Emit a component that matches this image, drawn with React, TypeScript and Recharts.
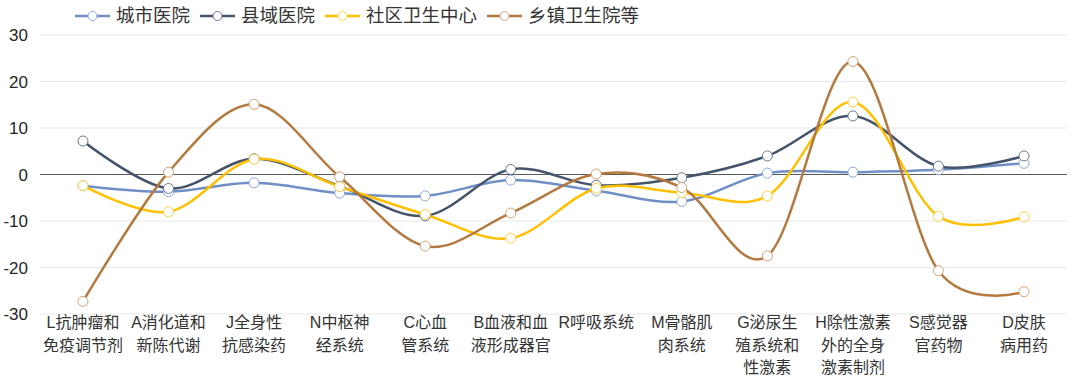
import React from "react";
import { LineChart, Line, XAxis, YAxis, CartesianGrid, ReferenceLine } from "recharts";

const categories = [
  "L抗肿瘤和\n免疫调节剂",
  "A消化道和\n新陈代谢",
  "J全身性\n抗感染药",
  "N中枢神\n经系统",
  "C心血\n管系统",
  "B血液和血\n液形成器官",
  "R呼吸系统",
  "M骨骼肌\n肉系统",
  "G泌尿生\n殖系统和\n性激素",
  "H除性激素\n外的全身\n激素制剂",
  "S感觉器\n官药物",
  "D皮肤\n病用药",
];

const cityHospital = [-2.4, -3.7, -1.8, -4.0, -4.6, -1.2, -3.5, -5.8, 0.3, 0.5, 1.0, 2.4];
const countyHospital = [7.2, -3.0, 3.4, -2.5, -8.9, 1.1, -2.3, -0.7, 4.0, 12.6, 1.8, 4.0];
const communityCenter = [-2.4, -8.0, 3.3, -2.6, -8.6, -13.7, -3.0, -3.9, -4.6, 15.6, -9.0, -9.1];
const townshipHospital = [-27.3, 0.5, 15.1, -0.5, -15.4, -8.3, 0.1, -2.8, -17.5, 24.3, -20.7, -25.2];

const yTicks = [-30, -20, -10, 0, 10, 20, 30];

const seriesNames = ["城市医院", "县域医院", "社区卫生中心", "乡镇卫生院等"];
const seriesKeys = ["city", "county", "community", "township"];
const seriesColors = ["#6F8FC6", "#44546A", "#FFC000", "#B4793F"];
const markerColors = ["#8EA9D8", "#6A788D", "#FFCF40", "#D2A27A"];

const data = categories.map((c, i) => ({
  cat: c,
  city: cityHospital[i],
  county: countyHospital[i],
  community: communityCenter[i],
  township: townshipHospital[i],
}));

// Cardinal (Catmull-Rom-like) smoothing, similar to spreadsheet smooth lines
function smoothCurve(context: any) {
  const k = 1 / 6;
  let x0 = NaN, y0 = NaN, x1 = NaN, y1 = NaN, x2 = NaN, y2 = NaN;
  let pt = 0;
  let line: number = NaN;
  const emit = (x: number, y: number) => {
    context.bezierCurveTo(
      x1 + k * (x2 - x0),
      y1 + k * (y2 - y0),
      x2 + k * (x1 - x),
      y2 + k * (y1 - y),
      x2,
      y2
    );
  };
  return {
    areaStart() { line = 0; },
    areaEnd() { line = NaN; },
    lineStart() { x0 = x1 = x2 = y0 = y1 = y2 = NaN; pt = 0; },
    lineEnd() {
      switch (pt) {
        case 2: context.lineTo(x2, y2); break;
        case 3: emit(x1, y1); break;
      }
      if (line || (line !== 0 && pt === 1)) context.closePath();
      line = 1 - line;
    },
    point(xx: number, yy: number) {
      const x = +xx, y = +yy;
      switch (pt) {
        case 0: pt = 1; if (line) context.lineTo(x, y); else context.moveTo(x, y); break;
        case 1: pt = 2; x1 = x; y1 = y; break;
        case 2: pt = 3; emit(x, y); break;
        default: emit(x, y); break;
      }
      x0 = x1; x1 = x2; x2 = x;
      y0 = y1; y1 = y2; y2 = y;
    },
  };
}

const FONT = '"Liberation Sans", "Noto Sans CJK SC", sans-serif';

const XTick = (props: any) => {
  const { x, y, payload } = props;
  const lines = String(payload.value).split("\n");
  return (
    <text x={x} y={y} textAnchor="middle" fill="#333" fontSize={16} fontFamily={FONT}>
      {lines.map((l, i) => (
        <tspan key={i} x={x} dy={i === 0 ? 14 : 22.5}>
          {l}
        </tspan>
      ))}
    </text>
  );
};

const LegendBlock = () => (
  <div
    style={{
      position: "absolute",
      top: 5,
      left: 75,
      display: "flex",
      alignItems: "center",
      fontFamily: FONT,
      fontSize: 18.5,
      lineHeight: "22px",
      color: "#333",
    }}
  >
    {seriesNames.map((n, i) => (
      <div key={n} style={{ display: "flex", alignItems: "center", marginRight: 10 }}>
        <svg width={35} height={14} style={{ marginRight: 6 }}>
          <line x1={0} y1={7} x2={35} y2={7} stroke={seriesColors[i]} strokeWidth={2.5} />
          <circle cx={17.5} cy={7} r={4.5} fill="#fff" stroke={markerColors[i]} strokeWidth={1} />
        </svg>
        <span style={{ whiteSpace: "nowrap" }}>{n}</span>
      </div>
    ))}
  </div>
);

export default function App() {
  return (
    <div style={{ position: "absolute", left: 0, top: 0, width: 1080, height: 387, background: "#fff" }}>
      <LineChart width={1080} height={387} data={data} margin={{ top: 35, right: 13, left: 0, bottom: 0 }}>
        <CartesianGrid horizontal vertical={false} stroke="#E8E8E8" />
        <XAxis
          dataKey="cat"
          interval={0}
          axisLine={false}
          tickLine={false}
          tickSize={0}
          tickMargin={0}
          height={73}
          padding={{ left: 43, right: 43 }}
          tick={<XTick />}
        />
        <YAxis
          domain={[-30, 30]}
          ticks={yTicks}
          axisLine={false}
          tickLine={false}
          tickSize={0}
          tickMargin={12}
          width={40}
          tick={{ fill: "#262626", fontSize: 17, fontFamily: FONT }}
        />
        <ReferenceLine y={0} stroke="#595959" strokeWidth={1} />
        {seriesKeys.map((k, i) => (
          <Line
            key={k}
            dataKey={k}
            name={seriesNames[i]}
            type={smoothCurve as any}
            stroke={seriesColors[i]}
            strokeWidth={2.5}
            dot={{ r: 5, fill: "#fff", stroke: markerColors[i], strokeWidth: 1 }}
            activeDot={false}
            isAnimationActive={false}
          />
        ))}
      </LineChart>
      <LegendBlock />
    </div>
  );
}
